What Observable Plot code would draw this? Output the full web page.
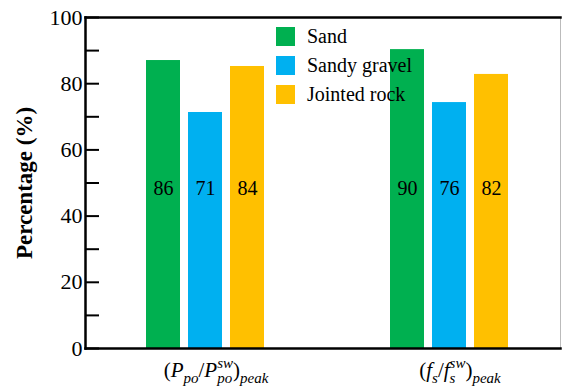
<!DOCTYPE html>
<html><head><meta charset="utf-8">
<script src="https://cdn.jsdelivr.net/npm/d3@7"></script>
<script src="https://cdn.jsdelivr.net/npm/@observablehq/plot@0.6"></script>
<style>
body{margin:0;background:#fff;}
#wrap{position:relative;width:563px;height:390px;}
#legend{position:absolute;left:276px;top:22px;font-size:20px;color:#000;}
.row{display:flex;align-items:center;height:29px;}
.sw{width:19px;height:19px;margin-right:12px;}
</style></head><body><div id="wrap"></div>
<script>
const groups = ["Ppo", "fs"];
const series = ["Sand", "Sandy gravel", "Jointed rock"];
const colors = ["#00B050", "#00B0F0", "#FFC000"];
const sandValues = [87.0, 90.3];
const gravelValues = [71.3, 74.3];
const rockValues = [85.2, 82.8];
const sandLabels = ["86", "90"];
const gravelLabels = ["71", "76"];
const rockLabels = ["84", "82"];
const yTicks = [0, 20, 40, 60, 80, 100];
const yMinorTicks = [10, 30, 50, 70, 90];
// group tick labels as segments: [text, role, italic]
const groupLabelParts = [
  [["(", "base", false], ["P", "base", true], ["po", "sub", true], ["/", "base", false], ["P", "base", true], ["po", "sub", true], ["sw", "supStack", true], [")", "base", false], ["peak", "sub", true]],
  [["(", "base", false], ["f", "base", true], ["s", "sub", true], ["/", "base", false], ["f", "base", true], ["s", "sub", true], ["sw", "supStack", true], [")", "base", false], ["peak", "sub", true]]
];
const FONT = "Liberation Serif";

const valueSets = [sandValues, gravelValues, rockValues];
const labelSets = [sandLabels, gravelLabels, rockLabels];
const data = [];
groups.forEach((g, gi) => series.forEach((s, si) => data.push({group: g, series: s, value: valueSets[si][gi], label: labelSets[si][gi]})));

const plot = Plot.plot({
  width: 563, height: 390,
  marginLeft: 85, marginRight: 2, marginTop: 17, marginBottom: 42,
  style: {fontSize: "22px", color: "#000", background: "#fff", overflow: "visible"},
  fx: {domain: groups, paddingInner: 0.053, paddingOuter: 0, label: null, axis: null},
  x: {domain: series, paddingInner: 0.19, paddingOuter: 1.283, align: 0.543, axis: null},
  y: {domain: [0, 100], label: null, axis: null},
  color: {domain: series, range: colors},
  marks: [
    Plot.barY(data, {fx: "group", x: "series", y: "value", fill: "series"}),
    Plot.text(data, {fx: "group", x: "series", text: "label", frameAnchor: "middle", dy: 6, fontSize: 20, fill: "#000"}),
    Plot.axisY(yTicks, {tickSize: 0, tickPadding: 3, fontSize: 22, label: "Percentage (%)", labelAnchor: "center", labelArrow: "none", labelOffset: 70}),
    Plot.axisY(yTicks.concat(yMinorTicks), {tickSize: 14, dx: 14, tickFormat: () => "", strokeWidth: 2, label: null}),
    Plot.axisFx({anchor: "bottom", tickSize: 0, tickPadding: 14, dx: 15, fontSize: 21, label: null, tickFormat: d => d}),
    Plot.frame({facet: "super", stroke: "#bbb", strokeWidth: 1}),
    Plot.frame({facet: "super", anchor: "left", strokeWidth: 2.5}),
    Plot.frame({facet: "super", anchor: "top", strokeWidth: 2.5}),
    Plot.frame({facet: "super", anchor: "bottom", strokeWidth: 2.5})
  ]
});
const wrap = document.getElementById("wrap");
wrap.appendChild(plot);
const setFont = (el, f = FONT) => { el.setAttribute("font-family", f); el.style.setProperty("font-family", f, "important"); };
setFont(plot);

// rich tick labels with sub/superscripts
d3.select(plot).selectAll('[aria-label="fx-axis tick label"] text').each(function(d, i) {
  const parts = groupLabelParts[i];
  if (!parts) return;
  const t = d3.select(this);
  t.text(null);
  let offset = 0, lastSubLen = 0;
  parts.forEach(([txt, role, it]) => {
    const ts = t.append("tspan").text(txt);
    setFont(ts.node());
    if (it) ts.attr("font-style", "italic");
    let target = 0, dx = 0;
    if (role === "sub") { target = 6; ts.attr("font-size", 15); }
    else if (role === "supStack") { target = -9; ts.attr("font-size", 15); dx = -lastSubLen; }
    ts.attr("dy", target - offset);
    if (dx) ts.attr("dx", dx);
    offset = target;
    if (role === "sub") lastSubLen = ts.node().getComputedTextLength();
  });
});
plot.querySelectorAll("g, text, tspan").forEach(el => setFont(el));
d3.select(plot).selectAll('[aria-label="y-axis label"] text').attr("font-weight", "bold").attr("font-size", 23).style("font-size", "23px");

// legend
const legend = document.createElement("div");
legend.id = "legend";
setFont(legend);
series.forEach((s, i) => {
  const row = document.createElement("div");
  row.className = "row";
  const sw = document.createElement("div");
  sw.className = "sw";
  sw.style.background = colors[i];
  const lab = document.createElement("span");
  lab.textContent = s;
  setFont(lab);
  row.appendChild(sw); row.appendChild(lab);
  legend.appendChild(row);
});
wrap.appendChild(legend);
</script></body></html>
